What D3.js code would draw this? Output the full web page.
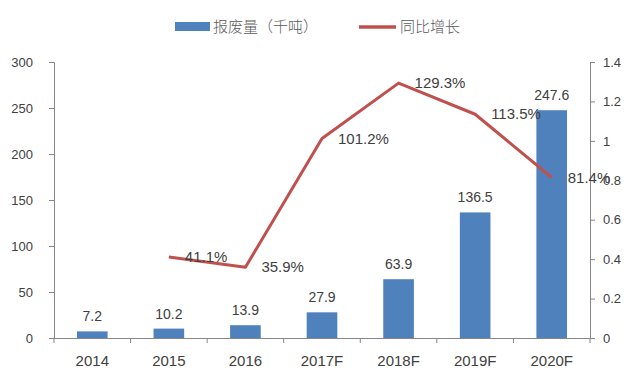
<!DOCTYPE html>
<html>
<head>
<meta charset="utf-8">
<script src="https://cdn.jsdelivr.net/npm/d3@7"></script>
<style>
  body { margin: 0; background: #fff; }
  svg text { font-family: "Liberation Sans", "DejaVu Sans", sans-serif; }
  .cjk { font-family: "Noto Sans CJK SC", sans-serif; }
</style>
</head>
<body>
<div id="chart"></div>
<script>
// 数据
const categories = ['2014', '2015', '2016', '2017F', '2018F', '2019F', '2020F'];
const scrapValues = [7.2, 10.2, 13.9, 27.9, 63.9, 136.5, 247.6];
const growthValues = [null, 0.411, 0.359, 1.012, 1.293, 1.135, 0.814];
const growthLabels = [null, '41.1%', '35.9%', '101.2%', '129.3%', '113.5%', '81.4%'];
const leftTicks = [0, 50, 100, 150, 200, 250, 300];
const rightTicks = [0, 0.2, 0.4, 0.6, 0.8, 1, 1.2, 1.4];
const legendNames = ['报废量（千吨）', '同比增长'];

const W = 640, H = 383;
const margin = { top: 62, right: 50, bottom: 45, left: 54 };
const width = W - margin.left - margin.right;
const height = H - margin.top - margin.bottom;

const barColor = '#4F81BD';
const lineColor = '#C0504D';
const axisColor = '#868686';
const textColor = '#404040';

const svg = d3.select('#chart').append('svg')
  .attr('width', W).attr('height', H);

const g = svg.append('g')
  .attr('transform', `translate(${margin.left},${margin.top})`);

// 比例尺
const x = d3.scaleBand().domain(categories).range([0, width]).paddingInner(0).paddingOuter(0);
const yL = d3.scaleLinear().domain([0, 300]).range([height, 0]);
const yR = d3.scaleLinear().domain([0, 1.4]).range([height, 0]);
const barW = x.bandwidth() * 0.4;

// 左轴
const axL = g.append('g')
  .call(d3.axisLeft(yL).tickValues(leftTicks).tickSize(5).tickPadding(16));
// 右轴
const axR = g.append('g')
  .attr('transform', `translate(${width},0)`)
  .call(d3.axisRight(yR).tickValues(rightTicks).tickSize(5).tickPadding(8)
    .tickFormat(d => d3.format('~g')(d)));
// X 轴
const axB = g.append('g')
  .attr('transform', `translate(0,${height})`)
  .call(d3.axisBottom(x).tickSize(0).tickPadding(17));

// 类别之间的刻度
axB.selectAll('.sep')
  .data(d3.range(categories.length + 1))
  .enter().append('line')
  .attr('x1', i => i * x.step()).attr('x2', i => i * x.step())
  .attr('y1', 0).attr('y2', 5)
  .attr('stroke', axisColor);

[axL, axR, axB].forEach(a => {
  a.select('.domain').attr('stroke', axisColor);
  a.selectAll('.tick line').attr('stroke', axisColor);
  a.selectAll('text').attr('fill', textColor).style('font-size', '13px');
});
axB.selectAll('text').style('font-size', '15px');

// 柱子
g.selectAll('.bar')
  .data(scrapValues)
  .enter().append('rect')
  .attr('class', 'bar')
  .attr('x', (d, i) => x(categories[i]) + (x.bandwidth() - barW) / 2)
  .attr('y', d => yL(d))
  .attr('width', barW)
  .attr('height', d => height - yL(d))
  .attr('fill', barColor);

g.selectAll('.barLabel')
  .data(scrapValues)
  .enter().append('text')
  .attr('x', (d, i) => x(categories[i]) + x.bandwidth() / 2)
  .attr('y', d => yL(d) - 10)
  .attr('text-anchor', 'middle')
  .attr('fill', textColor)
  .style('font-size', '14px')
  .text(d => d);

// 折线
const pts = growthValues.map((v, i) => ({ v, c: categories[i], label: growthLabels[i] }))
  .filter(d => d.v !== null);

const line = d3.line()
  .x(d => x(d.c) + x.bandwidth() / 2)
  .y(d => yR(d.v));

g.append('path')
  .datum(pts)
  .attr('d', line)
  .attr('fill', 'none')
  .attr('stroke', lineColor)
  .attr('stroke-width', 3)
  .attr('stroke-linejoin', 'round');

g.selectAll('.lineLabel')
  .data(pts)
  .enter().append('text')
  .attr('x', d => x(d.c) + x.bandwidth() / 2 + 16)
  .attr('y', d => yR(d.v))
  .attr('dy', '0.35em')
  .attr('fill', textColor)
  .style('font-size', '15px')
  .text(d => d.label);

// 图例
const leg = svg.append('g');
leg.append('rect')
  .attr('x', 175).attr('y', 22).attr('width', 35).attr('height', 9)
  .attr('fill', barColor);
leg.append('text')
  .attr('class', 'cjk')
  .attr('x', 213).attr('y', 27).attr('dy', '0.35em')
  .attr('fill', '#595959')
  .style('font-size', '15px')
  .style('font-weight', 300)
  .text(legendNames[0]);
leg.append('line')
  .attr('x1', 359).attr('x2', 396).attr('y1', 27).attr('y2', 27)
  .attr('stroke', lineColor).attr('stroke-width', 3.5);
leg.append('text')
  .attr('class', 'cjk')
  .attr('x', 400).attr('y', 27).attr('dy', '0.35em')
  .attr('fill', '#595959')
  .style('font-size', '15px')
  .style('font-weight', 300)
  .text(legendNames[1]);
</script>
</body>
</html>
